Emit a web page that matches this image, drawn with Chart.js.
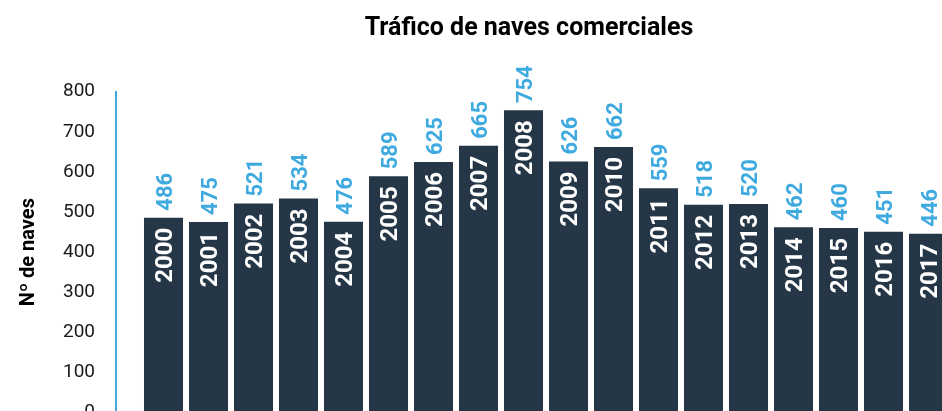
<!DOCTYPE html>
<html>
<head>
<meta charset="utf-8">
<script src="https://cdn.jsdelivr.net/npm/chart.js@4/dist/chart.umd.min.js"></script>
<style>
html,body{margin:0;padding:0;overflow:hidden;background:#fff;width:942px;height:411px;}
#c{position:absolute;left:0;top:0;}
</style>
</head>
<body>
<canvas id="c" width="942" height="445"></canvas>
<script>
const years = ['2000','2001','2002','2003','2004','2005','2006','2007','2008','2009','2010','2011','2012','2013','2014','2015','2016','2017'];
const naves = [486,475,521,534,476,589,625,665,754,626,662,559,518,520,462,460,451,446];
const yTicks = [0,100,200,300,400,500,600,700,800];

const BAR = '#253746';
const BLUE = '#3eaae0';

const labelPlugin = {
  id: 'barLabels',
  afterDatasetsDraw(chart) {
    const ctx = chart.ctx;
    const meta = chart.getDatasetMeta(0);
    meta.data.forEach((bar, i) => {
      ctx.save();
      ctx.translate(bar.x, bar.y - 7);
      ctx.rotate(-Math.PI / 2);
      ctx.font = 'bold 22px Roboto';
      ctx.fillStyle = BLUE;
      ctx.textAlign = 'left';
      ctx.textBaseline = 'alphabetic';
      ctx.fillText(String(naves[i]), 0, 8);
      ctx.restore();
      ctx.save();
      ctx.translate(bar.x, bar.y + 10);
      ctx.rotate(-Math.PI / 2);
      ctx.font = 'bold 24px Roboto';
      ctx.fillStyle = '#ffffff';
      ctx.textAlign = 'right';
      ctx.textBaseline = 'alphabetic';
      ctx.fillText(years[i], 0, 8.5);
      ctx.restore();
    });
  }
};

const xMin = -1.0556;
const xMax = xMin + 826 / 45;

new Chart(document.getElementById('c'), {
  type: 'bar',
  data: {
    datasets: [{
      data: naves.map((v, i) => ({ x: i, y: v })),
      backgroundColor: BAR,
      borderWidth: 0,
      categoryPercentage: 1,
      barPercentage: 0.867
    }]
  },
  options: {
    responsive: false,
    animation: false,
    devicePixelRatio: 1,
    layout: { padding: { left: 0, right: 0, top: 0, bottom: 0 } },
    plugins: {
      legend: { display: false },
      tooltip: { enabled: false },
      title: {
        display: true,
        fullSize: false,
        text: 'Tráfico de naves comerciales',
        color: '#000000',
        font: { family: 'Roboto', size: 25, weight: 'bold', lineHeight: 1.2 },
        padding: { top: 14, bottom: 47.7 }
      }
    },
    scales: {
      x: {
        type: 'linear',
        display: false,
        min: xMin,
        max: xMax,
        offset: false
      },
      y: {
        min: 0,
        max: 800,
        afterBuildTicks(scale) { scale.ticks = yTicks.map(v => ({ value: v })); },
        afterFit(scale) { scale.width = 116; },
        grid: { display: false, drawTicks: false },
        border: { display: true, color: BLUE, width: 2 },
        ticks: {
          padding: 21,
          color: '#1a1a1a',
          font: { family: 'Roboto', size: 19 }
        },
        title: {
          display: true,
          text: 'Nº de naves',
          color: '#000000',
          font: { family: 'Roboto', size: 20, weight: 'bold' },
          padding: { top: 17, bottom: 0 }
        }
      }
    }
  },
  plugins: [labelPlugin]
});
</script>
</body>
</html>
